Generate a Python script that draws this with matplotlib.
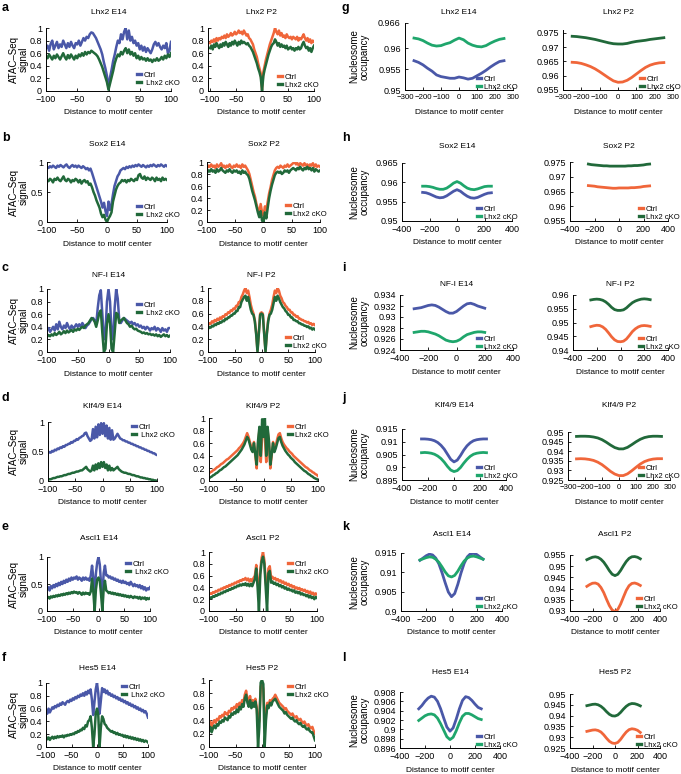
import numpy as np
import matplotlib
matplotlib.use('Agg')
import matplotlib.pyplot as plt

plt.rcParams['font.family'] = ['Liberation Sans', 'DejaVu Sans']

W, H = 681, 774
BLUE = '#4a58a8'
ORANGE = '#f0663a'
DKGREEN = '#21693a'
TEAL = '#1fa66c'

# ---------------- ATAC-Seq profiles (x = -100 .. 100, step 2.5) ----------------
ATAC_X = np.arange(-100, 100.1, 2.5)

LHX2_E14_CTRL = [
    0.68, 0.72, 0.64, 0.75, 0.80, 0.66, 0.72, 0.78, 0.68, 0.74,
    0.70, 0.80, 0.74, 0.68, 0.76, 0.70, 0.78, 0.72, 0.68, 0.76,
    0.74, 0.80, 0.72, 0.78, 0.84, 0.80, 0.86, 0.84, 0.90, 0.93,
    0.92, 0.88, 0.84, 0.78, 0.72, 0.66, 0.58, 0.46, 0.36, 0.24,
    0.04,
    0.22, 0.34, 0.48, 0.58, 0.70, 0.80, 0.76, 0.90, 0.82, 0.94,
    1.00, 0.82, 0.96, 0.80, 0.86, 0.76, 0.80, 0.72, 0.76, 0.66,
    0.72, 0.64, 0.70, 0.62, 0.68, 0.64, 0.60, 0.66, 0.74, 0.78,
    0.72, 0.76, 0.70, 0.66, 0.72, 0.68, 0.76, 0.60, 0.64, 0.78]
LHX2_E14_CKO = [
    0.56, 0.52, 0.58, 0.54, 0.50, 0.56, 0.52, 0.58, 0.54, 0.50,
    0.55, 0.60, 0.54, 0.50, 0.57, 0.52, 0.58, 0.54, 0.50, 0.56,
    0.52, 0.58, 0.55, 0.60, 0.56, 0.62, 0.58, 0.62, 0.60, 0.64,
    0.62, 0.60, 0.58, 0.55, 0.50, 0.44, 0.38, 0.30, 0.22, 0.14,
    0.02,
    0.12, 0.22, 0.32, 0.44, 0.52, 0.58, 0.55, 0.62, 0.58, 0.64,
    0.68, 0.60, 0.66, 0.58, 0.62, 0.56, 0.60, 0.52, 0.56, 0.50,
    0.54, 0.50, 0.52, 0.48, 0.52, 0.48, 0.50, 0.46, 0.50, 0.48,
    0.52, 0.48, 0.50, 0.54, 0.50, 0.56, 0.52, 0.58, 0.54, 0.60]
LHX2_P2_CTRL = [
    0.76, 0.80, 0.78, 0.82, 0.78, 0.84, 0.80, 0.84, 0.82, 0.86,
    0.84, 0.88, 0.84, 0.90, 0.86, 0.88, 0.92, 0.88, 0.90, 0.94,
    0.90, 0.92, 0.96, 0.92, 0.94, 0.90, 0.96, 0.92, 0.88, 0.90,
    0.84, 0.82, 0.78, 0.74, 0.66, 0.60, 0.54, 0.44, 0.36, 0.28,
    0.02,
    0.30, 0.40, 0.50, 0.58, 0.66, 0.74, 0.80, 0.86, 0.92, 1.00,
    0.94, 0.90, 0.96, 0.88, 0.92, 0.86, 0.88, 0.84, 0.90, 0.86,
    0.84, 0.86, 0.82, 0.86, 0.84, 0.82, 0.86, 0.80, 0.84, 0.82,
    0.86, 0.90, 0.84, 0.80, 0.84, 0.78, 0.82, 0.76, 0.80, 0.78]
LHX2_P2_CKO = [
    0.68, 0.72, 0.66, 0.74, 0.70, 0.76, 0.72, 0.68, 0.74, 0.70,
    0.76, 0.72, 0.78, 0.74, 0.70, 0.76, 0.72, 0.78, 0.74, 0.80,
    0.76, 0.72, 0.78, 0.74, 0.80, 0.76, 0.78, 0.76, 0.74, 0.76,
    0.72, 0.70, 0.66, 0.62, 0.56, 0.50, 0.44, 0.36, 0.30, 0.22,
    0.00,
    0.24, 0.34, 0.42, 0.50, 0.58, 0.64, 0.70, 0.74, 0.76, 0.82,
    0.78, 0.72, 0.76, 0.70, 0.74, 0.70, 0.72, 0.68, 0.72, 0.66,
    0.68, 0.70, 0.66, 0.68, 0.64, 0.68, 0.66, 0.70, 0.66, 0.68,
    0.74, 0.78, 0.72, 0.68, 0.70, 0.64, 0.68, 0.62, 0.68, 0.72]

SOX2_E14_CTRL = [
    0.92, 0.90, 0.93, 0.91, 0.94, 0.92, 0.90, 0.94, 0.92, 0.95,
    0.93, 0.91, 0.94, 0.96, 0.92, 0.90, 0.93, 0.95, 0.92, 0.94,
    0.91, 0.94, 0.92, 0.90, 0.93, 0.91, 0.88, 0.90, 0.86, 0.89,
    0.82, 0.74, 0.66, 0.58, 0.50, 0.42, 0.34, 0.24, 0.32, 0.18,
    0.10,
    0.34, 0.20, 0.30, 0.46, 0.60, 0.68, 0.76, 0.80, 0.86, 0.88,
    0.90, 0.88, 0.92, 0.90, 0.93, 0.91, 0.94, 0.92, 0.95, 0.93,
    0.96, 0.94, 0.92, 0.95, 0.93, 0.91, 0.94, 0.92, 0.95, 0.93,
    0.96, 0.94, 0.92, 0.95, 0.93, 0.96, 0.94, 0.92, 0.95, 0.93]
SOX2_E14_CKO = [
    0.70, 0.68, 0.72, 0.70, 0.66, 0.72, 0.70, 0.74, 0.70, 0.68,
    0.72, 0.76, 0.70, 0.68, 0.72, 0.70, 0.66, 0.70, 0.68, 0.72,
    0.70, 0.66, 0.70, 0.64, 0.68, 0.70, 0.66, 0.68, 0.62, 0.64,
    0.58, 0.50, 0.44, 0.36, 0.30, 0.24, 0.14, 0.08, 0.12, 0.04,
    0.00,
    0.06, 0.10, 0.16, 0.34, 0.44, 0.54, 0.60, 0.64, 0.66, 0.70,
    0.68, 0.70, 0.66, 0.70, 0.68, 0.72, 0.70, 0.68, 0.72, 0.70,
    0.78, 0.80, 0.74, 0.72, 0.76, 0.70, 0.74, 0.72, 0.70, 0.74,
    0.72, 0.68, 0.74, 0.70, 0.72, 0.68, 0.74, 0.70, 0.72, 0.70]
SOX2_P2_CTRL = [
    0.90, 0.94, 0.92, 0.96, 0.92, 0.94, 0.90, 0.96, 0.92, 0.94,
    0.98, 0.92, 0.94, 0.90, 0.94, 0.92, 0.96, 0.92, 0.90, 0.94,
    0.92, 0.96, 0.92, 0.94, 0.90, 0.96, 0.92, 0.94, 0.90, 0.86,
    0.80, 0.70, 0.60, 0.50, 0.42, 0.30, 0.22, 0.14, 0.30, 0.16,
    0.10,
    0.26, 0.20, 0.34, 0.48, 0.58, 0.70, 0.78, 0.86, 0.90, 0.92,
    0.90, 0.94, 0.92, 0.90, 0.94, 0.92, 0.96, 0.92, 0.94, 0.96,
    0.98, 1.00, 0.96, 0.98, 0.94, 0.98, 0.96, 0.94, 0.98, 0.94,
    0.96, 0.92, 0.96, 0.94, 0.98, 0.92, 0.96, 0.92, 0.94, 0.92]
SOX2_P2_CKO = [
    0.82, 0.86, 0.84, 0.88, 0.84, 0.86, 0.82, 0.88, 0.84, 0.86,
    0.90, 0.86, 0.84, 0.82, 0.86, 0.84, 0.88, 0.84, 0.82, 0.86,
    0.84, 0.86, 0.82, 0.84, 0.80, 0.86, 0.82, 0.84, 0.80, 0.78,
    0.72, 0.62, 0.52, 0.44, 0.36, 0.26, 0.16, 0.08, 0.18, 0.02,
    0.00,
    0.16, 0.06, 0.24, 0.40, 0.52, 0.62, 0.70, 0.78, 0.82, 0.84,
    0.82, 0.84, 0.80, 0.82, 0.86, 0.84, 0.86, 0.82, 0.86, 0.88,
    0.90, 0.88, 0.86, 0.90, 0.88, 0.92, 0.88, 0.86, 0.90, 0.88,
    0.92, 0.88, 0.90, 0.86, 0.90, 0.84, 0.88, 0.86, 0.84, 0.86]

NFI_E14_CTRL = [
    0.34, 0.38, 0.32, 0.36, 0.40, 0.34, 0.44, 0.36, 0.48, 0.40,
    0.36, 0.42, 0.38, 0.46, 0.40, 0.36, 0.42, 0.38, 0.40, 0.44,
    0.40, 0.44, 0.40, 0.46, 0.42, 0.38, 0.42, 0.44, 0.48, 0.52,
    0.54, 0.50, 0.44, 0.70, 0.90, 0.98, 0.60, 0.20, 0.30, 0.80,
    1.00,
    0.80, 0.30, 0.20, 0.70, 1.00, 0.85, 0.50, 0.46, 0.50, 0.54,
    0.52, 0.50, 0.48, 0.46, 0.48, 0.44, 0.46, 0.42, 0.44, 0.40,
    0.42, 0.38, 0.40, 0.36, 0.40, 0.38, 0.34, 0.38, 0.36, 0.40,
    0.34, 0.38, 0.36, 0.32, 0.38, 0.34, 0.36, 0.32, 0.38, 0.38]
NFI_E14_CKO = [
    0.24, 0.27, 0.25, 0.28, 0.26, 0.30, 0.27, 0.29, 0.32, 0.28,
    0.30, 0.33, 0.30, 0.34, 0.31, 0.33, 0.35, 0.32, 0.36, 0.34,
    0.37, 0.35, 0.38, 0.40, 0.38, 0.42, 0.44, 0.46, 0.50, 0.54,
    0.52, 0.48, 0.40, 0.50, 0.62, 0.66, 0.30, 0.00, 0.05, 0.45,
    0.60,
    0.45, 0.05, 0.00, 0.30, 0.62, 0.60, 0.46, 0.50, 0.52, 0.54,
    0.50, 0.46, 0.44, 0.40, 0.42, 0.38, 0.36, 0.37, 0.34, 0.33,
    0.32, 0.30, 0.31, 0.29, 0.30, 0.28, 0.29, 0.27, 0.28, 0.26,
    0.28, 0.25, 0.27, 0.24, 0.26, 0.28, 0.25, 0.27, 0.24, 0.26]
NFI_P2_CTRL = [
    0.42, 0.45, 0.44, 0.48, 0.46, 0.50, 0.48, 0.52, 0.50, 0.54,
    0.52, 0.56, 0.55, 0.59, 0.58, 0.62, 0.61, 0.65, 0.64, 0.68,
    0.67, 0.72, 0.72, 0.78, 0.78, 0.86, 0.90, 0.96, 1.00, 0.92,
    0.96, 0.86, 0.74, 0.66, 0.60, 0.50, 0.30, 0.02, 0.30, 0.60,
    0.62,
    0.60, 0.30, 0.02, 0.30, 0.50, 0.60, 0.66, 0.74, 0.86, 0.96,
    0.92, 1.00, 0.96, 0.88, 0.84, 0.78, 0.76, 0.72, 0.70, 0.66,
    0.66, 0.62, 0.62, 0.58, 0.58, 0.55, 0.56, 0.52, 0.52, 0.50,
    0.50, 0.48, 0.48, 0.46, 0.47, 0.44, 0.45, 0.42, 0.44, 0.42]
NFI_P2_CKO = [
    0.36, 0.39, 0.38, 0.41, 0.40, 0.43, 0.42, 0.45, 0.44, 0.47,
    0.46, 0.49, 0.48, 0.52, 0.51, 0.54, 0.54, 0.57, 0.57, 0.60,
    0.60, 0.64, 0.64, 0.70, 0.70, 0.78, 0.82, 0.86, 0.88, 0.80,
    0.86, 0.76, 0.66, 0.60, 0.58, 0.48, 0.28, 0.00, 0.28, 0.58,
    0.60,
    0.58, 0.28, 0.00, 0.28, 0.48, 0.58, 0.60, 0.66, 0.76, 0.86,
    0.80, 0.88, 0.84, 0.78, 0.74, 0.70, 0.68, 0.64, 0.62, 0.58,
    0.58, 0.54, 0.54, 0.50, 0.50, 0.48, 0.48, 0.45, 0.45, 0.43,
    0.43, 0.41, 0.41, 0.39, 0.40, 0.37, 0.38, 0.35, 0.37, 0.35]

KLF_E14_CTRL = [
    0.47, 0.49, 0.48, 0.51, 0.50, 0.53, 0.52, 0.55, 0.54, 0.57,
    0.56, 0.59, 0.58, 0.61, 0.61, 0.63, 0.63, 0.66, 0.65, 0.68,
    0.68, 0.71, 0.70, 0.73, 0.74, 0.76, 0.77, 0.81, 0.82, 0.76,
    0.72, 0.68, 0.70, 0.88, 0.72, 0.92, 0.74, 0.96, 0.78, 0.98,
    0.80,
    0.98, 0.76, 0.94, 0.72, 0.90, 0.70, 0.86, 0.70, 0.72, 0.76,
    0.80, 0.76, 0.72, 0.71, 0.69, 0.69, 0.67, 0.67, 0.65, 0.65,
    0.63, 0.63, 0.61, 0.61, 0.59, 0.59, 0.57, 0.57, 0.55, 0.55,
    0.53, 0.53, 0.51, 0.51, 0.49, 0.49, 0.47, 0.47, 0.45, 0.44]
KLF_E14_CKO = [
    0.02, 0.03, 0.03, 0.04, 0.05, 0.05, 0.06, 0.07, 0.07, 0.08,
    0.08, 0.09, 0.10, 0.10, 0.11, 0.12, 0.12, 0.13, 0.14, 0.14,
    0.15, 0.16, 0.16, 0.17, 0.18, 0.18, 0.20, 0.22, 0.24, 0.20,
    0.18, 0.16, 0.18, 0.26, 0.18, 0.28, 0.20, 0.30, 0.22, 0.32,
    0.24,
    0.32, 0.22, 0.28, 0.18, 0.26, 0.18, 0.22, 0.18, 0.20, 0.22,
    0.24, 0.20, 0.18, 0.16, 0.15, 0.14, 0.14, 0.13, 0.12, 0.12,
    0.11, 0.10, 0.10, 0.09, 0.08, 0.08, 0.07, 0.06, 0.06, 0.05,
    0.05, 0.04, 0.04, 0.03, 0.03, 0.02, 0.02, 0.01, 0.01, 0.00]
KLF_P2_CTRL = [
    0.12, 0.14, 0.15, 0.17, 0.18, 0.20, 0.22, 0.23, 0.25, 0.27,
    0.28, 0.30, 0.32, 0.34, 0.35, 0.37, 0.39, 0.41, 0.43, 0.45,
    0.47, 0.49, 0.52, 0.54, 0.57, 0.60, 0.64, 0.70, 0.76, 0.70,
    0.62, 0.54, 0.50, 0.62, 0.40, 0.20, 0.60, 0.80, 0.30, 0.70,
    0.80,
    0.70, 0.30, 0.80, 0.60, 0.20, 0.40, 0.62, 0.50, 0.56, 0.66,
    0.74, 0.76, 0.68, 0.62, 0.58, 0.55, 0.52, 0.50, 0.47, 0.45,
    0.43, 0.40, 0.38, 0.36, 0.34, 0.32, 0.30, 0.28, 0.26, 0.24,
    0.22, 0.21, 0.19, 0.17, 0.16, 0.14, 0.13, 0.11, 0.10, 0.08]
KLF_P2_CKO = [
    0.04, 0.06, 0.07, 0.09, 0.10, 0.12, 0.13, 0.15, 0.17, 0.18,
    0.20, 0.22, 0.23, 0.25, 0.27, 0.29, 0.31, 0.33, 0.35, 0.37,
    0.39, 0.41, 0.44, 0.47, 0.50, 0.54, 0.58, 0.64, 0.70, 0.66,
    0.58, 0.50, 0.46, 0.60, 0.42, 0.26, 0.64, 0.86, 0.40, 0.98,
    0.70,
    1.00, 0.40, 0.86, 0.64, 0.26, 0.42, 0.60, 0.46, 0.52, 0.60,
    0.68, 0.70, 0.62, 0.56, 0.52, 0.48, 0.45, 0.42, 0.40, 0.37,
    0.35, 0.33, 0.30, 0.28, 0.26, 0.24, 0.22, 0.20, 0.18, 0.16,
    0.15, 0.13, 0.11, 0.10, 0.08, 0.07, 0.05, 0.04, 0.03, 0.02]

ASCL1_E14_CTRL = [
    0.40, 0.44, 0.38, 0.46, 0.42, 0.48, 0.44, 0.50, 0.46, 0.52,
    0.48, 0.54, 0.50, 0.56, 0.52, 0.58, 0.54, 0.60, 0.56, 0.62,
    0.58, 0.62, 0.60, 0.64, 0.58, 0.62, 0.60, 0.56, 0.62, 0.58,
    0.62, 0.58, 0.60, 0.56, 0.66, 0.84, 0.60, 0.28, 0.70, 0.90,
    1.00,
    0.86, 0.50, 0.26, 0.70, 0.84, 0.66, 0.66, 0.62, 0.64, 0.60,
    0.62, 0.58, 0.60, 0.56, 0.58, 0.54, 0.56, 0.52, 0.56, 0.52,
    0.54, 0.50, 0.52, 0.48, 0.54, 0.50, 0.46, 0.50, 0.46, 0.48,
    0.44, 0.48, 0.42, 0.46, 0.40, 0.44, 0.38, 0.42, 0.40, 0.44]
ASCL1_E14_CKO = [
    0.24, 0.26, 0.23, 0.27, 0.25, 0.28, 0.26, 0.29, 0.27, 0.30,
    0.28, 0.31, 0.29, 0.32, 0.30, 0.33, 0.31, 0.34, 0.32, 0.35,
    0.33, 0.36, 0.34, 0.35, 0.32, 0.35, 0.33, 0.30, 0.34, 0.31,
    0.34, 0.32, 0.33, 0.30, 0.36, 0.60, 0.35, 0.00, 0.40, 0.58,
    0.62,
    0.56, 0.30, 0.00, 0.40, 0.56, 0.38, 0.36, 0.33, 0.35, 0.32,
    0.34, 0.31, 0.33, 0.30, 0.32, 0.29, 0.31, 0.28, 0.30, 0.27,
    0.29, 0.26, 0.28, 0.25, 0.28, 0.26, 0.24, 0.27, 0.25, 0.26,
    0.23, 0.26, 0.22, 0.25, 0.23, 0.25, 0.21, 0.24, 0.22, 0.24]
ASCL1_P2_CTRL = [
    0.28, 0.30, 0.29, 0.32, 0.31, 0.34, 0.33, 0.36, 0.35, 0.38,
    0.37, 0.40, 0.39, 0.42, 0.41, 0.44, 0.43, 0.46, 0.45, 0.48,
    0.47, 0.50, 0.49, 0.52, 0.51, 0.54, 0.53, 0.56, 0.52, 0.55,
    0.50, 0.54, 0.50, 0.56, 0.60, 0.78, 0.50, 0.30, 0.70, 0.90,
    1.00,
    0.86, 0.50, 0.30, 0.72, 0.76, 0.56, 0.58, 0.54, 0.56, 0.52,
    0.54, 0.50, 0.52, 0.48, 0.50, 0.46, 0.48, 0.44, 0.46, 0.42,
    0.44, 0.40, 0.42, 0.38, 0.40, 0.37, 0.39, 0.35, 0.37, 0.34,
    0.36, 0.32, 0.34, 0.30, 0.33, 0.29, 0.31, 0.27, 0.30, 0.28]
ASCL1_P2_CKO = [
    0.20, 0.23, 0.22, 0.25, 0.24, 0.27, 0.26, 0.29, 0.28, 0.31,
    0.30, 0.33, 0.32, 0.35, 0.34, 0.37, 0.36, 0.39, 0.38, 0.41,
    0.40, 0.43, 0.42, 0.45, 0.43, 0.46, 0.44, 0.47, 0.43, 0.46,
    0.42, 0.46, 0.42, 0.48, 0.54, 0.72, 0.40, 0.00, 0.62, 0.84,
    0.92,
    0.80, 0.40, 0.00, 0.64, 0.68, 0.48, 0.50, 0.46, 0.48, 0.44,
    0.46, 0.42, 0.44, 0.40, 0.42, 0.38, 0.40, 0.36, 0.38, 0.35,
    0.36, 0.33, 0.35, 0.31, 0.33, 0.30, 0.32, 0.28, 0.30, 0.27,
    0.28, 0.25, 0.27, 0.23, 0.26, 0.22, 0.24, 0.20, 0.24, 0.22]

HES5_E14_CTRL = [
    0.58, 0.52, 0.60, 0.54, 0.58, 0.62, 0.60, 0.64, 0.62, 0.66,
    0.64, 0.68, 0.66, 0.70, 0.68, 0.66, 0.70, 0.72, 0.70, 0.74,
    0.72, 0.76, 0.74, 0.78, 0.76, 0.80, 0.78, 0.82, 0.80, 0.84,
    0.80, 0.86, 0.82, 0.88, 0.84, 0.90, 0.74, 0.50, 0.70, 0.90,
    1.00,
    0.84, 0.52, 0.72, 0.92, 0.86, 0.90, 0.84, 0.88, 0.82, 0.84,
    0.80, 0.82, 0.78, 0.80, 0.76, 0.78, 0.74, 0.76, 0.72, 0.74,
    0.70, 0.72, 0.68, 0.70, 0.66, 0.68, 0.64, 0.66, 0.62, 0.64,
    0.60, 0.62, 0.58, 0.60, 0.56, 0.58, 0.54, 0.56, 0.52, 0.46]
HES5_E14_CKO = [
    0.16, 0.12, 0.15, 0.11, 0.14, 0.16, 0.13, 0.16, 0.14, 0.17,
    0.15, 0.17, 0.16, 0.18, 0.15, 0.18, 0.17, 0.19, 0.18, 0.20,
    0.19, 0.21, 0.20, 0.23, 0.22, 0.25, 0.24, 0.27, 0.26, 0.30,
    0.28, 0.34, 0.32, 0.40, 0.42, 0.48, 0.30, 0.00, 0.20, 0.52,
    0.60,
    0.50, 0.00, 0.30, 0.48, 0.44, 0.36, 0.34, 0.30, 0.28, 0.26,
    0.24, 0.25, 0.22, 0.23, 0.20, 0.22, 0.19, 0.20, 0.18, 0.19,
    0.16, 0.18, 0.15, 0.17, 0.14, 0.16, 0.13, 0.15, 0.12, 0.14,
    0.11, 0.13, 0.10, 0.12, 0.09, 0.11, 0.08, 0.10, 0.09, 0.07]
HES5_P2_CTRL = [
    0.32, 0.38, 0.30, 0.36, 0.40, 0.36, 0.42, 0.40, 0.46, 0.44,
    0.48, 0.46, 0.52, 0.50, 0.48, 0.54, 0.52, 0.58, 0.56, 0.60,
    0.58, 0.64, 0.60, 0.66, 0.62, 0.70, 0.66, 0.78, 0.84, 0.72,
    0.66, 0.76, 0.62, 0.70, 0.64, 0.72, 0.60, 0.30, 0.40, 0.90,
    0.96,
    0.86, 0.40, 0.50, 0.66, 0.62, 0.70, 0.66, 0.72, 0.74, 0.78,
    0.74, 0.70, 0.66, 0.64, 0.62, 0.60, 0.56, 0.58, 0.54, 0.52,
    0.50, 0.48, 0.50, 0.46, 0.44, 0.46, 0.42, 0.40, 0.42, 0.38,
    0.36, 0.38, 0.34, 0.32, 0.34, 0.30, 0.28, 0.30, 0.24, 0.20]
HES5_P2_CKO = [
    0.24, 0.30, 0.22, 0.28, 0.32, 0.28, 0.34, 0.32, 0.38, 0.36,
    0.40, 0.38, 0.44, 0.42, 0.40, 0.46, 0.44, 0.50, 0.48, 0.52,
    0.50, 0.56, 0.52, 0.60, 0.56, 0.64, 0.60, 0.72, 0.78, 0.66,
    0.60, 0.70, 0.58, 0.66, 0.60, 0.68, 0.56, 0.00, 0.30, 0.96,
    1.00,
    0.94, 0.00, 0.40, 0.62, 0.58, 0.66, 0.62, 0.68, 0.70, 0.72,
    0.68, 0.64, 0.60, 0.58, 0.56, 0.54, 0.50, 0.52, 0.48, 0.46,
    0.44, 0.42, 0.44, 0.40, 0.38, 0.40, 0.36, 0.34, 0.36, 0.32,
    0.30, 0.32, 0.28, 0.26, 0.28, 0.24, 0.22, 0.22, 0.16, 0.10]

# ---------------- Nucleosome occupancy profiles ----------------
NUC_X = np.arange(-250, 251, 25)            # 21 points
NUC_X_LEFTSHIFT = np.arange(-300, 201, 25)  # NF-I E14
NUC_X_SHORT = np.arange(-250, 226, 25)      # 20 points

NUC_LHX2_E14_CTRL = [0.9570, 0.9566, 0.9560, 0.9552, 0.9545, 0.9536, 0.9532, 0.9530, 0.9528, 0.9528, 0.9531,
                     0.9529, 0.9526, 0.9528, 0.9534, 0.9540, 0.9547, 0.9555, 0.9562, 0.9568, 0.9570]
NUC_LHX2_E14_CKO = [0.9624, 0.9622, 0.9618, 0.9612, 0.9607, 0.9605, 0.9606, 0.9610, 0.9613, 0.9619, 0.9624,
                    0.9620, 0.9612, 0.9607, 0.9604, 0.9603, 0.9606, 0.9612, 0.9617, 0.9621, 0.9623]
NUC_LHX2_P2_CTRL = [0.9647, 0.9646, 0.9643, 0.9638, 0.9632, 0.9624, 0.9614, 0.9603, 0.9592, 0.9582, 0.9577,
                    0.9578, 0.9584, 0.9594, 0.9606, 0.9618, 0.9629, 0.9637, 0.9642, 0.9645, 0.9646]
NUC_LHX2_P2_CKO = [0.9738, 0.9737, 0.9735, 0.9733, 0.9730, 0.9727, 0.9723, 0.9719, 0.9715, 0.9712, 0.9711,
                   0.9711, 0.9713, 0.9717, 0.9720, 0.9722, 0.9724, 0.9727, 0.9729, 0.9731, 0.9733]

NUC_SOX2_E14_CTRL = [0.9574, 0.9573, 0.9570, 0.9566, 0.9562, 0.9560, 0.9561, 0.9565, 0.9571, 0.9577, 0.9581,
                     0.9577, 0.9570, 0.9564, 0.9560, 0.9559, 0.9561, 0.9565, 0.9569, 0.9572, 0.9573]
NUC_SOX2_E14_CKO = [0.9590, 0.9590, 0.9589, 0.9587, 0.9584, 0.9582, 0.9582, 0.9585, 0.9591, 0.9598, 0.9602,
                    0.9598, 0.9591, 0.9585, 0.9582, 0.9581, 0.9583, 0.9586, 0.9589, 0.9590, 0.9590]
NUC_SOX2_P2_CTRL = [0.9670, 0.9669, 0.9668, 0.9666, 0.9665, 0.9664, 0.9663, 0.9662, 0.9661, 0.9661, 0.9662,
                    0.9662, 0.9662, 0.9662, 0.9663, 0.9663, 0.9664, 0.9665, 0.9667, 0.9668, 0.9669]
NUC_SOX2_P2_CKO = [0.9743, 0.9741, 0.9740, 0.9739, 0.9738, 0.9737, 0.9737, 0.9736, 0.9736, 0.9736, 0.9736,
                   0.9736, 0.9736, 0.9737, 0.9737, 0.9738, 0.9738, 0.9739, 0.9740, 0.9742, 0.9743]

NUC_NFI_E14_CTRL = [0.9315, 0.9316, 0.9317, 0.9319, 0.9321, 0.9322, 0.9321, 0.9318, 0.9314, 0.9310, 0.9307,
                    0.9307, 0.9310, 0.9315, 0.9320, 0.9324, 0.9325, 0.9323, 0.9320, 0.9318, 0.9316]
NUC_NFI_E14_CKO = [0.9272, 0.9273, 0.9274, 0.9274, 0.9273, 0.9271, 0.9269, 0.9266, 0.9262, 0.9258, 0.9256,
                   0.9255, 0.9256, 0.9259, 0.9264, 0.9268, 0.9270, 0.9272, 0.9273, 0.9273, 0.9272]
NUC_NFI_P2_CTRL = [0.9485, 0.9488, 0.9490, 0.9489, 0.9484, 0.9475, 0.9462, 0.9448, 0.9437, 0.9431, 0.9430,
                   0.9432, 0.9440, 0.9453, 0.9467, 0.9477, 0.9484, 0.9488, 0.9489, 0.9488, 0.9486]
NUC_NFI_P2_CKO = [0.9582, 0.9584, 0.9585, 0.9584, 0.9581, 0.9575, 0.9566, 0.9555, 0.9547, 0.9544, 0.9544,
                  0.9546, 0.9553, 0.9563, 0.9572, 0.9578, 0.9582, 0.9585, 0.9586, 0.9585, 0.9583]

NUC_KLF_E14_CTRL = [0.9111, 0.9111, 0.9110, 0.9108, 0.9104, 0.9097, 0.9086, 0.9071, 0.9051, 0.9031, 0.9021,
                    0.9028, 0.9046, 0.9067, 0.9084, 0.9096, 0.9104, 0.9108, 0.9110, 0.9111, 0.9111]
NUC_KLF_E14_CKO = [0.9057, 0.9058, 0.9057, 0.9055, 0.9051, 0.9044, 0.9034, 0.9020, 0.9003, 0.8989, 0.8983,
                   0.8987, 0.8999, 0.9016, 0.9031, 0.9043, 0.9051, 0.9055, 0.9057, 0.9058, 0.9057]
NUC_KLF_P2_CTRL = [0.9360, 0.9361, 0.9360, 0.9357, 0.9352, 0.9343, 0.9330, 0.9313, 0.9295, 0.9281, 0.9273,
                   0.9273, 0.9282, 0.9298, 0.9316, 0.9333, 0.9346, 0.9354, 0.9359, 0.9361, 0.9361]
NUC_KLF_P2_CKO = [0.9477, 0.9478, 0.9478, 0.9477, 0.9474, 0.9469, 0.9460, 0.9447, 0.9432, 0.9419, 0.9412,
                  0.9412, 0.9420, 0.9434, 0.9449, 0.9462, 0.9471, 0.9476, 0.9478, 0.9478, 0.9477]

NUC_ASCL1_E14_CTRL = [0.9131, 0.9137, 0.9143, 0.9147, 0.9145, 0.9137, 0.9122, 0.9099, 0.9073, 0.9049, 0.9037,
                      0.9045, 0.9069, 0.9098, 0.9123, 0.9140, 0.9148, 0.9149, 0.9146, 0.9140, 0.9134]
NUC_ASCL1_E14_CKO = [0.9132, 0.9135, 0.9138, 0.9140, 0.9139, 0.9134, 0.9126, 0.9114, 0.9101, 0.9091, 0.9088,
                     0.9092, 0.9103, 0.9117, 0.9129, 0.9137, 0.9141, 0.9142, 0.9140, 0.9137, 0.9134]
NUC_ASCL1_P2_CTRL = [0.9410, 0.9418, 0.9424, 0.9425, 0.9420, 0.9405, 0.9382, 0.9352, 0.9324, 0.9304,
                     0.9298, 0.9307, 0.9331, 0.9362, 0.9392, 0.9413, 0.9423, 0.9425, 0.9421, 0.9414]
NUC_ASCL1_P2_CKO = [0.9529, 0.9535, 0.9540, 0.9542, 0.9539, 0.9531, 0.9518, 0.9500, 0.9480, 0.9464,
                    0.9458, 0.9464, 0.9481, 0.9502, 0.9521, 0.9535, 0.9542, 0.9543, 0.9540, 0.9533]

NUC_HES5_E14_CTRL = [0.9044, 0.9051, 0.9060, 0.9067, 0.9071, 0.9069, 0.9060, 0.9044, 0.9024, 0.9005, 0.8996,
                     0.9003, 0.9022, 0.9044, 0.9062, 0.9070, 0.9068, 0.9062, 0.9054, 0.9047, 0.9044]
NUC_HES5_E14_CKO = [0.9019, 0.9024, 0.9029, 0.9032, 0.9033, 0.9031, 0.9024, 0.9012, 0.8998, 0.8984, 0.8978,
                    0.8983, 0.8997, 0.9014, 0.9028, 0.9034, 0.9034, 0.9031, 0.9027, 0.9023, 0.9021]
NUC_HES5_P2_CTRL = [0.9327, 0.9330, 0.9333, 0.9334, 0.9331, 0.9324, 0.9311, 0.9295, 0.9281, 0.9273,
                    0.9271, 0.9276, 0.9290, 0.9308, 0.9324, 0.9335, 0.9339, 0.9337, 0.9332, 0.9322]
NUC_HES5_P2_CKO = [0.9446, 0.9449, 0.9452, 0.9453, 0.9450, 0.9443, 0.9432, 0.9418, 0.9406, 0.9399,
                   0.9398, 0.9403, 0.9415, 0.9430, 0.9443, 0.9452, 0.9456, 0.9455, 0.9451, 0.9445]

LETTERS_LEFT = ['a', 'b', 'c', 'd', 'e', 'f']
LETTERS_RIGHT = ['g', 'h', 'i', 'j', 'k', 'l']
GENES = ['Lhx2', 'Sox2', 'NF-I', 'Klf4/9', 'Ascl1', 'Hes5']

ATAC_DATA = [
    (LHX2_E14_CTRL, LHX2_E14_CKO, LHX2_P2_CTRL, LHX2_P2_CKO),
    (SOX2_E14_CTRL, SOX2_E14_CKO, SOX2_P2_CTRL, SOX2_P2_CKO),
    (NFI_E14_CTRL, NFI_E14_CKO, NFI_P2_CTRL, NFI_P2_CKO),
    (KLF_E14_CTRL, KLF_E14_CKO, KLF_P2_CTRL, KLF_P2_CKO),
    (ASCL1_E14_CTRL, ASCL1_E14_CKO, ASCL1_P2_CTRL, ASCL1_P2_CKO),
    (HES5_E14_CTRL, HES5_E14_CKO, HES5_P2_CTRL, HES5_P2_CKO),
]
NUC_DATA = [
    (NUC_X, NUC_LHX2_E14_CTRL, NUC_LHX2_E14_CKO, NUC_X, NUC_LHX2_P2_CTRL, NUC_LHX2_P2_CKO),
    (NUC_X, NUC_SOX2_E14_CTRL, NUC_SOX2_E14_CKO, NUC_X, NUC_SOX2_P2_CTRL, NUC_SOX2_P2_CKO),
    (NUC_X_LEFTSHIFT, NUC_NFI_E14_CTRL, NUC_NFI_E14_CKO, NUC_X, NUC_NFI_P2_CTRL, NUC_NFI_P2_CKO),
    (NUC_X, NUC_KLF_E14_CTRL, NUC_KLF_E14_CKO, NUC_X, NUC_KLF_P2_CTRL, NUC_KLF_P2_CKO),
    (NUC_X, NUC_ASCL1_E14_CTRL, NUC_ASCL1_E14_CKO, NUC_X_SHORT, NUC_ASCL1_P2_CTRL, NUC_ASCL1_P2_CKO),
    (NUC_X, NUC_HES5_E14_CTRL, NUC_HES5_E14_CKO, NUC_X_SHORT, NUC_HES5_P2_CTRL, NUC_HES5_P2_CKO),
]

YT_FINE = [0, 0.2, 0.4, 0.6, 0.8, 1]
YT_HALF = [0, 0.5, 1]
ATAC_YTICKS_E14 = [YT_FINE, YT_HALF, YT_FINE, YT_HALF, YT_HALF, YT_FINE]

NUC_YTICKS = [
    ([0.95, 0.955, 0.96, 0.966], [0.955, 0.96, 0.965, 0.97, 0.975]),
    ([0.95, 0.955, 0.96, 0.965], [0.955, 0.96, 0.965, 0.97, 0.975]),
    ([0.924, 0.926, 0.928, 0.93, 0.932, 0.934], [0.94, 0.945, 0.95, 0.955, 0.96]),
    ([0.895, 0.9, 0.905, 0.91, 0.915], [0.925, 0.93, 0.935, 0.94, 0.945, 0.95]),
    ([0.9, 0.905, 0.91, 0.915], [0.93, 0.935, 0.94, 0.945, 0.95, 0.955]),
    ([0.896, 0.898, 0.9, 0.902, 0.904, 0.906, 0.908], [0.925, 0.93, 0.935, 0.94, 0.945, 0.95]),
]
XT_300 = [-300, -200, -100, 0, 100, 200, 300]
XT_400 = [-400, -200, 0, 200, 400]
NUC_XTICKS = [(XT_300, XT_300), (XT_400, XT_400), (XT_400, XT_400),
              (XT_400, XT_300), (XT_400, XT_400), (XT_400, XT_400)]

# ---------------- layout (pixels: left, right, top, bottom) ----------------
ATAC_BOX = [
    ((46, 171, 28, 91), (208, 314, 28, 91)),
    ((47, 167, 162, 222), (207, 320, 162, 222)),
    ((47, 170, 289, 352), (208, 315, 288, 352)),
    ((48, 157, 422, 481), (209, 318, 418, 481)),
    ((47, 150, 557, 611), (209, 317, 552, 611)),
    ((46, 148, 683, 747), (209, 315, 680, 747)),
]
ATAC_XLIM2 = [(-104, 100), (-100, 100), (-100, 100), (-100, 100), (-100, 100), (-100, 100)]
NUC_BOX = [
    ((405, 513, 23, 90), (563, 673, 30, 90)),
    ((402, 512, 163, 221), (570, 668, 162, 221)),
    ((400, 513, 295, 350), (573, 668, 295, 350)),
    ((402, 506, 429, 480), (568, 670, 432, 480)),
    ((401, 502, 553, 611), (570, 660, 555, 611)),
    ((400, 500, 692, 748), (570, 660, 694, 748)),
]
NUC_YTOP_R0 = 0.976
ROW_TITLE_Y = [13, 145, 275, 407, 538, 668]
NUC_TITLE_Y = [13, 146, 285, 405, 535, 672]
LETTER_Y = [8, 138, 268, 398, 527, 658]
# legend anchor: (handle left px, mid y px)
ATAC_LEG = [
    ((137, 79), (278, 81)),
    ((137, 211), (286, 210)),
    ((137, 309), (286, 342)),
    ((132, 431), (288, 431)),
    ((126, 568), (288, 568)),
    ((122, 691), (288, 691)),
]
NUC_LEG = [
    ((477, 83), (640, 83)),
    ((477, 213), (639, 213)),
    ((477, 343), (639, 343)),
    ((477, 472), (639, 472)),
    ((477, 603), (637, 603)),
    ((477, 741), (637, 741)),
]

FS_TICK = 6.5
FS_TICK_DENSE = 5.7
FS_TEXT = 6.0
FS_YLAB = 7.0


def fmt(v):
    s = ('%.4f' % v).rstrip('0').rstrip('.')
    if s in ('-0', ''):
        s = '0'
    return s.replace('-', '\u2212')


def add_px_axes(fig, box):
    l, r, t, b = box
    return fig.add_axes([l / W, 1 - b / H, (r - l) / W, (b - t) / H])


def style(ax, xticks, yticks):
    for s in ('top', 'right'):
        ax.spines[s].set_visible(False)
    for s in ('left', 'bottom'):
        ax.spines[s].set_linewidth(0.7)
    ax.set_xticks(xticks)
    ax.set_xticklabels([fmt(v) for v in xticks])
    ax.set_yticks(yticks)
    ax.set_yticklabels([fmt(v) for v in yticks])
    ax.tick_params(direction='in', length=2.5, width=0.6, labelsize=FS_TICK, pad=3)
    if len(xticks) > 5:
        ax.tick_params(axis='x', labelsize=FS_TICK_DENSE)


def legend(ax, box, anchor, labels=('Ctrl', 'Lhx2 cKO')):
    l, r, t, b = box
    fx = (anchor[0] - l) / (r - l)
    fy = (b - anchor[1]) / (b - t)
    leg = ax.legend(list(labels), loc='center left', bbox_to_anchor=(fx, fy),
                    frameon=False, fontsize=5.5, handlelength=0.55, handletextpad=0.35,
                    labelspacing=0.05, borderpad=0, borderaxespad=0)
    for h in leg.legend_handles:
        h.set_linewidth(2.4)
    return leg


def label_texts(fig, box, title, title_y, ylabel=None, ylab_x=None):
    l, r, t, b = box
    fig.text((l + r) / 2 / W, 1 - title_y / H, title, ha='center', va='center', fontsize=FS_TEXT)
    fig.text((l + r) / 2 / W, 1 - (b + 22) / H, 'Distance to motif center',
             ha='center', va='center', fontsize=FS_TEXT)
    if ylabel:
        fig.text(ylab_x / W, 1 - (t + b) / 2 / H, ylabel, ha='center', va='center',
                 rotation=90, fontsize=FS_YLAB, multialignment='center', linespacing=1.05)


fig = plt.figure(figsize=(W / 100, H / 100), dpi=100)

for i, gene in enumerate(GENES):
    e_ctrl, e_cko, p_ctrl, p_cko = ATAC_DATA[i]
    box1, box2 = ATAC_BOX[i]

    ax = add_px_axes(fig, box1)
    ax.plot(ATAC_X, e_ctrl, color=BLUE, lw=1.8)
    ax.plot(ATAC_X, e_cko, color=DKGREEN, lw=1.8)
    ax.set_xlim(-100, 100)
    ax.set_ylim(0, 1)
    style(ax, [-100, -50, 0, 50, 100], ATAC_YTICKS_E14[i])
    legend(ax, box1, ATAC_LEG[i][0], ('Ctrl', ' Lhx2 cKO'))
    label_texts(fig, box1, gene + ' E14', ROW_TITLE_Y[i], 'ATAC\u2013Seq\nsignal', 19)

    ax = add_px_axes(fig, box2)
    ax.plot(ATAC_X, p_ctrl, color=ORANGE, lw=1.8)
    ax.plot(ATAC_X, p_cko, color=DKGREEN, lw=1.8)
    ax.set_xlim(*ATAC_XLIM2[i])
    ax.set_ylim(0, 1)
    style(ax, [-100, -50, 0, 50, 100], YT_FINE)
    legend(ax, box2, ATAC_LEG[i][1])
    label_texts(fig, box2, gene + ' P2', ROW_TITLE_Y[i])

    fig.text(2 / W, 1 - LETTER_Y[i] / H, LETTERS_LEFT[i], fontsize=9, fontweight='bold',
             ha='left', va='center')

    # nucleosome occupancy
    xe, ne_ctrl, ne_cko, xp, np_ctrl, np_cko = NUC_DATA[i]
    nb1, nb2 = NUC_BOX[i]
    yt1, yt2 = NUC_YTICKS[i]
    xt1, xt2 = NUC_XTICKS[i]

    ax = add_px_axes(fig, nb1)
    ax.plot(xe, ne_ctrl, color=BLUE, lw=2.0)
    ax.plot(xe, ne_cko, color=TEAL, lw=2.0)
    ax.set_xlim(xt1[0], xt1[-1])
    ax.set_ylim(yt1[0], yt1[-1])
    style(ax, xt1, yt1)
    legend(ax, nb1, NUC_LEG[i][0])
    label_texts(fig, nb1, gene + ' E14', NUC_TITLE_Y[i], 'Nucleosome\noccupancy', 359)

    ax = add_px_axes(fig, nb2)
    ax.plot(xp, np_ctrl, color=ORANGE, lw=2.0)
    ax.plot(xp, np_cko, color=DKGREEN, lw=2.0)
    ax.set_xlim(xt2[0], xt2[-1])
    ax.set_ylim(yt2[0], NUC_YTOP_R0 if i == 0 else yt2[-1])
    style(ax, xt2, yt2)
    legend(ax, nb2, NUC_LEG[i][1])
    label_texts(fig, nb2, gene + ' P2', NUC_TITLE_Y[i])

    fig.text(342 / W, 1 - LETTER_Y[i] / H, LETTERS_RIGHT[i], fontsize=9, fontweight='bold',
             ha='left', va='center')

fig.savefig('out.png', dpi=100)
